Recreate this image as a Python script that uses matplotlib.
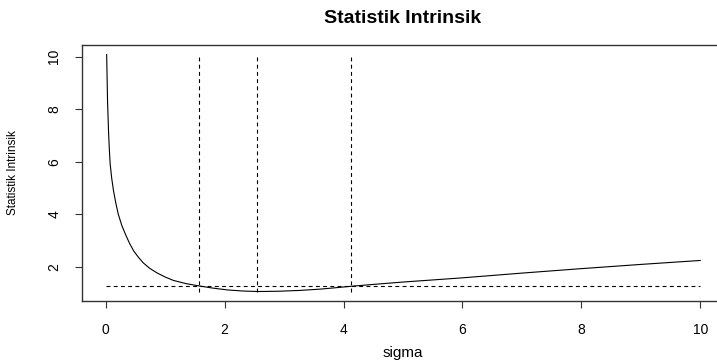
import matplotlib
matplotlib.use("Agg")
import matplotlib.pyplot as plt

# values
sigma = [0.015, 0.03, 0.046, 0.06, 0.074, 0.1, 0.13, 0.17, 0.21, 0.27,
         0.33, 0.4, 0.47, 0.55, 0.63, 0.74, 0.86, 1.0, 1.14, 1.35, 1.55,
         1.8, 2.05, 2.3, 2.56, 2.9, 3.25, 3.6, 3.85, 4.13, 4.5, 5.0, 6.0,
         7.0, 8.0, 9.0, 10.0]
stat = [10.08, 8.28, 7.18, 6.47, 5.91, 5.37, 4.90, 4.42, 4.01, 3.58,
        3.25, 2.90, 2.61, 2.37, 2.16, 1.95, 1.78, 1.62, 1.49, 1.37, 1.29,
        1.20, 1.13, 1.09, 1.07, 1.08, 1.11, 1.16, 1.21, 1.27, 1.34, 1.43,
        1.59, 1.77, 1.94, 2.10, 2.25]
vlines_x = [1.56, 2.55, 4.13]
hline_y = 1.28

plt.rcParams["font.family"] = ["Liberation Sans", "DejaVu Sans"]

fig = plt.figure(figsize=(7.17, 3.61), dpi=100)
ax = fig.add_axes([82 / 717, 60 / 361, 642 / 717, 256 / 361])

ax.plot(sigma, stat, color="black", lw=0.8)
ax.vlines(vlines_x, min(stat), max(stat), colors="black", lw=0.8,
          linestyles=(0, (3.5, 3)))
ax.hlines(hline_y, 0, 10, colors="black", lw=0.8, linestyles=(0, (3.5, 3)))

ax.margins(0.04)
ax.set_xticks([0, 2, 4, 6, 8, 10])
ax.set_yticks([2, 4, 6, 8, 10])
ax.tick_params(axis="both", direction="out", length=5, width=0.8,
               labelsize=10, colors="#333333", labelcolor="black")
ax.tick_params(axis="x", pad=11)
ax.tick_params(axis="y", pad=10)
for lab in ax.get_yticklabels():
    lab.set_rotation(90)
    lab.set_va("center")
for sp in ax.spines.values():
    sp.set_linewidth(1.0)
    sp.set_color("#333333")
ax.spines["right"].set_visible(False)

ax.set_xlabel("sigma", fontsize=11, labelpad=6)
ax.set_ylabel("Statistik Intrinsik", fontsize=8.5, labelpad=20)
ax.set_title("Statistik Intrinsik", fontsize=14, fontweight="bold", pad=16)

fig.savefig("out.png", dpi=100)
